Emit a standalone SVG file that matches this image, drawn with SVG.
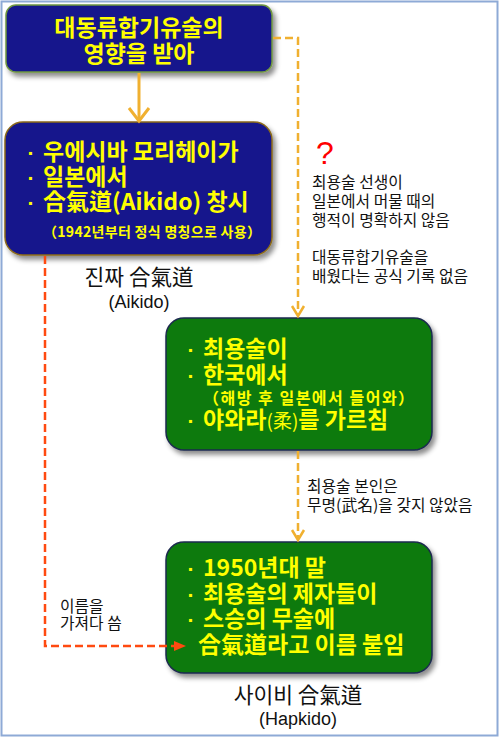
<svg xmlns="http://www.w3.org/2000/svg" width="500" height="738" viewBox="0 0 500 738">
<style>
.nav{fill:#15158c}
.grn{fill:#0a7a0a;stroke:#1c2a4f;stroke-width:1.5}
.y{fill:#ffff00;font-family:"Noto Sans CJK KR","Noto Sans",sans-serif;font-weight:bold;font-size:23px}
.b{fill:#ffff00;font-family:"Liberation Sans",Arial,sans-serif;font-weight:bold;font-size:21px}
.ys{fill:#ffff00;font-family:"Noto Sans CJK KR","Noto Sans",sans-serif;font-weight:bold;font-size:14px;letter-spacing:0.3px}
.ys2{fill:#ffff00;font-family:"Noto Sans CJK KR","Noto Sans",sans-serif;font-weight:bold;font-size:16px;letter-spacing:1.5px}
.lbl{fill:#111;font-family:"Noto Sans CJK KR","Noto Sans",sans-serif;font-size:15.8px}
.big{fill:#111;font-family:"Noto Sans CJK KR","Noto Sans",sans-serif;font-size:21.5px}
.en{fill:#111;font-family:"Liberation Sans",Arial,sans-serif;font-size:18px}
.dor{fill:none;stroke:#f0b030;stroke-width:2.5;stroke-dasharray:8 4}
.dred{fill:none;stroke:#ff4a10;stroke-width:2.5;stroke-dasharray:8 4}
</style>
<defs>
<filter id="sh" x="-10%" y="-10%" width="130%" height="130%">
<feDropShadow dx="3" dy="4" stdDeviation="2.5" flood-color="#000" flood-opacity="0.45"/>
</filter>
</defs>
<rect x="1.5" y="1.5" width="496" height="734" fill="#fff" stroke="#8eaad6" stroke-width="2"/>

<g id="top">
<rect x="6" y="5" width="266" height="67" rx="10" class="nav" stroke="#6f9640" stroke-width="1.5" filter="url(#sh)"/>
<text class="y" x="139" y="36" text-anchor="middle">대동류합기유술의</text>
<text class="y" x="139" y="62" text-anchor="middle">영향을 받아</text>
</g>

<g id="aikido">
<rect x="5" y="122" width="267" height="133" rx="18" class="nav" stroke="#8b6a1a" stroke-width="1.5" filter="url(#sh)"/>
<text class="b" x="31" y="160" text-anchor="middle">·</text>
<text class="y" x="43" y="160">우에시바 모리헤이가</text>
<text class="b" x="31" y="185" text-anchor="middle">·</text>
<text class="y" x="43" y="185">일본에서</text>
<text class="b" x="31" y="210" text-anchor="middle">·</text>
<text class="y" x="43" y="210">合氣道(Aikido) 창시</text>
<text class="ys" x="43" y="237">（1942년부터 정식 명칭으로 사용）</text>
</g>

<g id="aikido-label">
<text class="big" x="139" y="285" text-anchor="middle">진짜 合氣道</text>
<text class="en" x="139" y="308" text-anchor="middle">(Aikido)</text>
</g>

<g id="note1">
<text x="325" y="164" text-anchor="middle" fill="#ff0000" font-family="Liberation Sans,Arial,sans-serif" font-size="32px">?</text>
<text class="lbl" x="312" y="188">최용술 선생이</text>
<text class="lbl" x="312" y="207">일본에서 머물 때의</text>
<text class="lbl" x="312" y="226">행적이 명확하지 않음</text>
<text class="lbl" x="312" y="263">대동류합기유술을</text>
<text class="lbl" x="312" y="282">배웠다는 공식 기록 없음</text>
</g>

<g id="choi">
<rect x="166" y="318" width="266" height="132" rx="18" class="grn" filter="url(#sh)"/>
<text class="b" x="191" y="357" text-anchor="middle">·</text>
<text class="y" x="203" y="357">최용술이</text>
<text class="b" x="191" y="383" text-anchor="middle">·</text>
<text class="y" x="203" y="383">한국에서</text>
<text class="ys2" x="203" y="404">（해방 후 일본에서 들어와）</text>
<text class="b" x="191" y="428" text-anchor="middle">·</text>
<text class="y" x="203" y="428">야와라<tspan font-weight="normal" font-size="19px">(柔)</tspan>를 가르침</text>
</g>

<g id="note2">
<text class="lbl" x="307" y="492">최용술 본인은</text>
<text class="lbl" x="307" y="511">무명(武名)을 갖지 않았음</text>
</g>

<g id="hapkido">
<rect x="166" y="542" width="266" height="131" rx="18" class="grn" filter="url(#sh)"/>
<text class="b" x="191" y="576" text-anchor="middle">·</text>
<text class="y" x="203" y="576">1950년대 말</text>
<text class="b" x="191" y="602" text-anchor="middle">·</text>
<text class="y" x="203" y="602">최용술의 제자들이</text>
<text class="b" x="191" y="627" text-anchor="middle">·</text>
<text class="y" x="203" y="627">스승의 무술에</text>
<text class="y" x="198" y="653">合氣道라고 이름 붙임</text>
</g>

<g id="note3">
<text class="lbl" x="60" y="612">이름을</text>
<text class="lbl" x="60" y="629">가져다 씀</text>
</g>

<g id="hapkido-label">
<text class="big" x="298" y="703" text-anchor="middle">사이비 合氣道</text>
<text class="en" x="298" y="725" text-anchor="middle">(Hapkido)</text>
</g>

<g id="connectors">
<line x1="139" y1="73" x2="139" y2="121" stroke="#f0b030" stroke-width="3"/>
<polyline points="129,108 139,121 149,108" fill="none" stroke="#f0b030" stroke-width="3"/>
<polyline class="dor" points="273,38 298,38 298,315"/>
<polyline points="292,306 298,316 304,306" fill="none" stroke="#f0b030" stroke-width="2.5"/>
<line class="dor" x1="298" y1="451" x2="298" y2="539"/>
<polyline points="292,530 298,540 304,530" fill="none" stroke="#f0b030" stroke-width="2.5"/>
<polyline class="dred" points="45,256 45,646 176,646"/>
<polygon points="174,641 186,646 174,651" fill="#ff4a10"/>
</g>
</svg>
